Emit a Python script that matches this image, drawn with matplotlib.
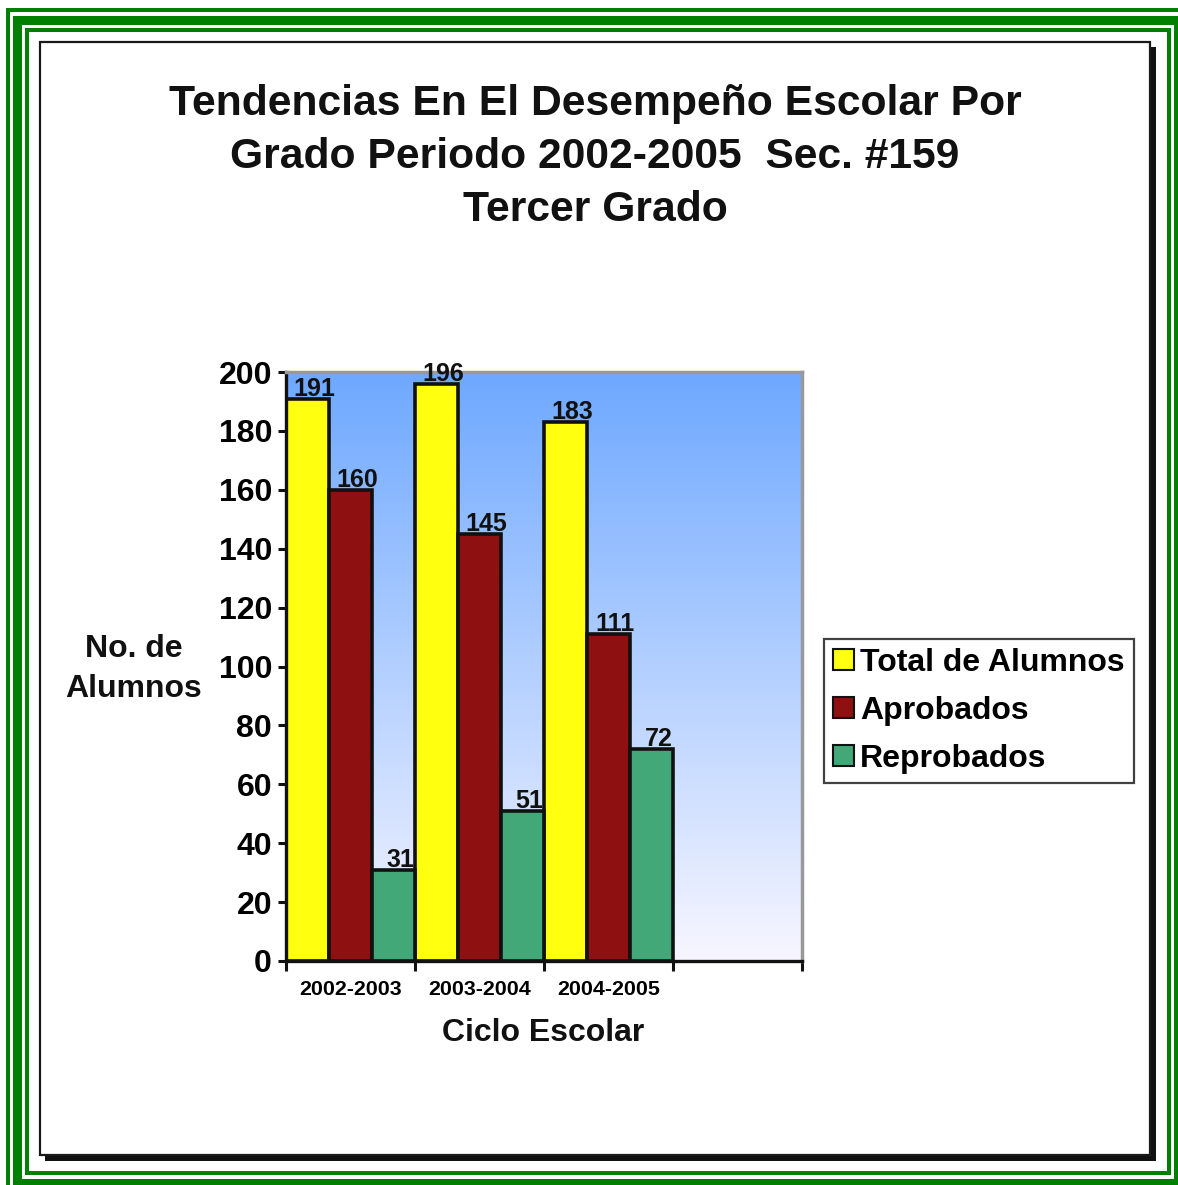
import numpy as np
import matplotlib
matplotlib.use('Agg')
import matplotlib.pyplot as plt
from matplotlib.patches import Rectangle

# Data
ciclos = ['2002-2003', '2003-2004', '2004-2005']
total = [191, 196, 183]
aprobados = [160, 145, 111]
reprobados = [31, 51, 72]

series_names = ['Total de Alumnos', 'Aprobados', 'Reprobados']
series_colors = ['#FFFF10', '#8E1010', '#42A878']

title = 'Tendencias En El Desempeño Escolar Por\nGrado Periodo 2002-2005  Sec. #159\nTercer Grado'

plt.rcParams['font.family'] = ['Liberation Sans', 'DejaVu Sans']
plt.rcParams['font.weight'] = 'bold'

W, H = 1178, 1185
fig = plt.figure(figsize=(W / 100, H / 100), dpi=100)
fig.patch.set_facecolor('white')

# Decorative page frame, drawn in pixel coordinates
bg = fig.add_axes([0, 0, 1, 1])
bg.set_xlim(0, W)
bg.set_ylim(H, 0)
bg.axis('off')
green = '#008000'
frame_bars = [
    (6, 8, 1172, 4), (6, 8, 4, 1177),
    (13, 16, 1165, 9), (13, 16, 9, 1169), (1174, 16, 4, 1169), (13, 1179, 1165, 6),
    (25, 28, 1146, 4), (25, 28, 4, 1147), (1167, 28, 4, 1147), (25, 1171, 1146, 4),
]
for (x, y, w, h) in frame_bars:
    bg.add_patch(Rectangle((x, y), w, h, facecolor=green, edgecolor='none'))
bg.add_patch(Rectangle((45, 47), 1111, 1114, facecolor='#111111', edgecolor='none'))
bg.add_patch(Rectangle((40, 42), 1110, 1113, facecolor='white', edgecolor='#1a1a1a', linewidth=1.6))

# Chart axes
ax = fig.add_axes([286 / W, 1 - 961 / H, (802 - 286) / W, (961 - 372) / H])
ax.set_xlim(-0.5, 3.5)
ax.set_ylim(0, 200)

# gradient background
grad = np.linspace(0, 1, 256).reshape(-1, 1)
top_c = np.array([0.43, 0.66, 1.0])
bot_c = np.array([0.97, 0.965, 1.0])
img = bot_c + (top_c - bot_c) * grad[:, :, None] * np.ones((1, 2, 1))
ax.imshow(img, extent=[-0.5, 3.5, 0, 200], origin='lower', aspect='auto', zorder=0)

x = np.arange(len(ciclos))
bw = 1 / 3
for i, (vals, name, col) in enumerate(zip([total, aprobados, reprobados], series_names, series_colors)):
    bars = ax.bar(x + (i - 1) * bw, vals, width=bw, color=col, edgecolor='#111111',
                  linewidth=2.6, label=name, zorder=2)
    for b, v in zip(bars, vals):
        ax.annotate(str(v), (b.get_x() + b.get_width() / 2, v), xytext=(5, -1.5),
                    textcoords='offset points', ha='center', va='bottom',
                    fontsize=18, fontweight='bold', color='#111111', zorder=5,
                    annotation_clip=False)

# axes styling
for s in ['left', 'bottom']:
    ax.spines[s].set_color('#111111')
    ax.spines[s].set_linewidth(2.4)
for s in ['top', 'right']:
    ax.spines[s].set_color('#999999')
    ax.spines[s].set_linewidth(2.5)
ax.set_yticks(np.arange(0, 201, 20))
ax.tick_params(axis='y', length=6, width=2.2, labelsize=23, pad=4, color='#111111')
ax.set_xticks(x)
ax.set_xticklabels(ciclos, fontsize=15.4, fontweight='bold')
ax.set_xticks(np.arange(-0.5, 3.6, 1), minor=True)
ax.tick_params(axis='x', which='major', length=0, pad=14)
ax.tick_params(axis='x', which='minor', length=7, width=2.2, color='#111111')
for lab in ax.get_yticklabels():
    lab.set_fontweight('bold')

# titles and axis labels
fig.text(595 / W, 1 - 157 / H, title, ha='center', va='center', fontsize=30.7,
         fontweight='bold', color='#111111', linespacing=1.41)
fig.text(134 / W, 1 - 669 / H, 'No. de\nAlumnos', ha='center', va='center',
         fontsize=23, fontweight='bold', color='#111111', linespacing=1.42)
fig.text(543 / W, 1 - 1033 / H, 'Ciclo Escolar', ha='center', va='center',
         fontsize=23, fontweight='bold', color='#111111')

# legend
leg = fig.legend(loc='upper left', bbox_to_anchor=(824 / W, 1 - 639 / H),
                 fontsize=23, frameon=True, fancybox=False, handlelength=0.65,
                 handleheight=0.65, handletextpad=0.2, labelspacing=0.56,
                 borderpad=0.28, borderaxespad=0)
leg.get_frame().set_edgecolor('#111111')
leg.get_frame().set_linewidth(1.6)
for t in leg.get_texts():
    t.set_fontweight('bold')
for h in leg.legend_handles:
    h.set_linewidth(1.5)

fig.savefig('out.png', dpi=100)
